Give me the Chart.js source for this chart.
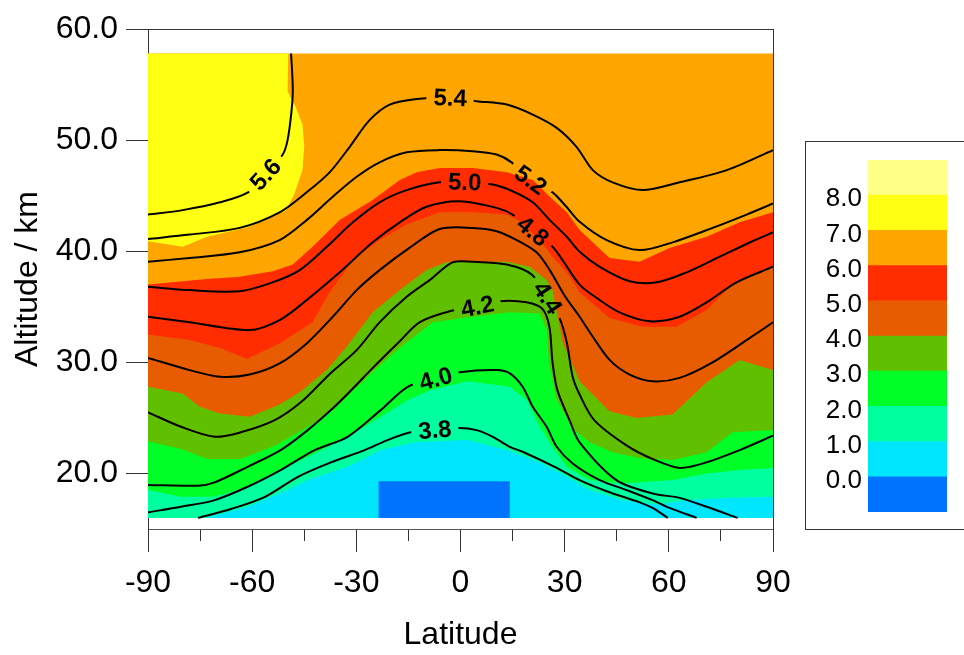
<!DOCTYPE html>
<html>
<head>
<meta charset="utf-8">
<script src="https://cdn.jsdelivr.net/npm/chart.js@4.4.0/dist/chart.umd.min.js"></script>
<style>
  body { margin: 0; background: #fff; overflow: hidden; }
  #wrap { position: relative; width: 964px; height: 655px; }
  #mainBox { position: absolute; left: 0; top: 0; width: 964px; height: 655px; }
  #legendBox { position: absolute; left: 805px; top: 141px; width: 170px; height: 389px;
               border: 1px solid #333; box-sizing: border-box; }
  #barBox { position: absolute; left: 806px; top: 142px; width: 157px; height: 387px; }
</style>
</head>
<body>
<div id="wrap">
  <div id="mainBox"><canvas id="myChart"></canvas></div>
  <div id="legendBox"></div>
  <div id="barBox"><canvas id="barChart"></canvas></div>
</div>
<script>
// ---- data (latitude, altitude km) ----
var altBottom = 16;
var altTop = 57.8;
var xTicks = [-90, -75, -60, -45, -30, -15, 0, 15, 30, 45, 60, 75, 90];
var yTicks = [20, 30, 40, 50, 60];
var rowAlts = [19.4, 22.9, 26.4, 29.9, 33.4, 36.9, 40.4, 43.9, 47.4, 50.9, 54.4];

// colour bands (top edge of each band, lower values are underneath)
var yellowEdge = [[-90,57.8],[-49.6,57.8],[-49.8,54.4],[-47.5,53],[-45.5,51.4],[-45,49.5],[-45.5,47.3],
  [-47.8,45.2],[-50.1,43.7],[-54.1,43.1],[-60.7,42.2],[-73,41.3],[-80,40.4],[-90,40.9]];
var redTop = [[-90,37.0],[-73,37.5],[-63.6,37.7],[-54.1,38.2],[-48.3,38.8],[-42.6,40.4],[-34.8,42.8],
  [-25.3,44.6],[-17.5,46.4],[-12.6,47.1],[-6,47.5],[3.5,47.5],[13.3,47.1],[20.8,46.4],[25.7,44.9],
  [30.6,43.5],[34.3,41.9],[42.9,39.4],[51.6,39.05],[60.2,40.3],[70.9,41.3],[80.4,42.6],[90,43.5]];
var darkOrangeTop = [[-90,32.5],[-78,32.0],[-69.3,31.3],[-61.5,30.3],[-52.1,31.7],[-42.6,33.6],[-37.7,36.3],
  [-31,39.2],[-23.3,41.0],[-15.5,42.4],[-6,43.5],[3.5,43.5],[13.3,43.3],[17.1,42.7],[22.8,41.0],
  [26.5,39.5],[30.6,38.1],[34.3,36.3],[42.9,34.0],[52.4,33.2],[62.2,33.2],[70.9,34.7],[77.5,36.8],
  [84.1,37.9],[90,38.6]];
var oliveTop = [[-90,27.8],[-80,27.2],[-75.1,26.0],[-69.3,25.4],[-60.7,25.1],[-52.1,26.2],[-46.3,27.3],
  [-38.5,29.3],[-32.8,31.4],[-25.3,34.5],[-17.5,36.5],[-9.8,38.3],[-4.1,39.0],[3.5,39.05],[13.3,39.05],
  [19.9,38.6],[24.8,37.4],[26.5,36.5],[29.4,31.8],[34.3,28.3],[42.9,25.6],[50.7,25.0],[61.1,25.3],
  [70.9,28.2],[80.4,30.2],[90,29.3]];
var greenTop = [[-90,22.9],[-80.5,22.2],[-72.8,21.3],[-63.3,21.3],[-53.5,22.5],[-44.9,24.0],[-36.3,25.8],
  [-30.5,27.6],[-24.7,29.3],[-17.5,31.3],[-8,33.6],[3.5,34.1],[14.2,34.5],[22.8,34.4],[24.8,33.0],
  [25.5,30.0],[27.5,26.8],[32.3,24.0],[37.2,22.8],[43.8,21.9],[51.6,21.4],[61.1,21.2],[70.9,21.9],
  [78.4,23.7],[90,23.9]];
var aquaTop = [[-90,18.5],[-80.5,17.9],[-70.8,17.9],[-61.3,18.8],[-51.8,20.3],[-42,21.8],[-32.5,23.3],
  [-23,25.1],[-15.2,26.6],[-8.6,27.5],[2,28.3],[14.2,27.8],[19.1,26.6],[22.8,24.2],[26.5,22.4],
  [30.6,20.6],[37.2,19.4],[46.7,19.1],[61.1,19.4],[70.9,20.0],[80.4,20.3],[90,20.5]];
var cyanTop = [[-73.6,16.0],[-61.3,17.0],[-49.8,18.5],[-44,19.4],[-32.5,20.6],[-23,22.1],[-13.2,22.8],
  [2,23.0],[13.3,22.1],[22.8,21.0],[30.6,19.7],[37.2,18.5],[46.7,17.6],[56.5,17.2],[66,17.6],
  [75.5,17.8],[90,17.9]];
var blueTop = [[-23.6,19.3],[14.2,19.3]];
var fullTop = [[-90,57.8],[90,57.8]];

// contour lines
var c56 = [[-90,43.3],[-80,43.7],[-69.3,44.4],[-61.2,45.3],[-56.1,46.9],[-51.2,48.7],[-49.8,50.0],
  [-48.7,52.5],[-48.3,54.3],[-48.5,56.2],[-48.8,57.8]];
var c54 = [[-90,41.1],[-78,41.5],[-63.6,42.1],[-52.1,43.5],[-44.3,45.3],[-37.7,47.1],[-31.9,49.4],
  [-26.2,51.8],[-20.4,53.2],[-12.6,53.7],[-3,53.8],[4.6,53.5],[13.3,53.2],[20.8,52.3],[27.7,51.1],
  [33.4,49.4],[38.1,47.3],[43.8,46.2],[52.5,45.5],[63.1,46.2],[76.7,47.3],[90,49.1]];
var c52 = [[-90,39.05],[-78,39.4],[-63.6,39.9],[-52.1,41.0],[-44.3,42.8],[-36.8,44.9],[-29.9,46.7],
  [-23.3,48.0],[-15.5,48.9],[-6,49.1],[3.5,49.0],[10.4,48.7],[14.7,48.0],[20.2,46.4],[26.5,45.3],
  [30.5,44.0],[34.3,42.65],[42.1,41.0],[51.6,40.1],[61.1,40.8],[72.6,42.1],[82.4,43.3],[90,44.3]];
var c50 = [[-90,36.8],[-78,36.5],[-63.6,36.4],[-54.1,37.2],[-46.3,38.3],[-38.5,40.4],[-31,42.6],
  [-23.3,44.4],[-15.5,45.5],[-6,46.2],[1.2,46.2],[9.3,46.0],[15,45.4],[20.8,44.4],[25.7,42.8],
  [30.6,41.3],[34.3,39.95],[40.1,38.6],[48.7,37.3],[56.5,37.2],[65.1,38.1],[74.6,39.5],[84.1,40.9],[90,41.7]];
var c48 = [[-90,34.1],[-78,33.6],[-60.7,32.9],[-52.1,33.8],[-44.3,35.6],[-34.8,38.1],[-25.3,40.8],
  [-17.5,42.6],[-9.8,44.0],[-0.3,44.5],[10.4,43.9],[15,43.3],[20.8,41.8],[26.5,40.4],[29.4,39.2],
  [34.3,37.0],[39.2,35.8],[45.8,34.5],[54.5,33.7],[63.1,34.1],[70.9,35.4],[79.5,37.2],[90,38.6]];
var c46 = [[-90,30.4],[-78,29.3],[-69.3,28.7],[-60.7,28.9],[-52.1,29.9],[-44.3,31.7],[-36.8,34.1],
  [-29.9,36.5],[-23.3,38.3],[-14.7,40.3],[-6,42.0],[3.5,42.1],[10.4,41.8],[16.2,41.0],[21.9,39.9],
  [25.7,38.3],[30,36.0],[34.3,34.1],[38.1,32.3],[43,30.2],[48.7,28.9],[55.3,28.3],[63.1,28.6],
  [72.6,30.0],[82.4,32.0],[90,33.6]];
var c44 = [[-90,25.5],[-80.5,24.2],[-70.8,23.3],[-63.3,23.7],[-53.5,24.8],[-46,26.4],[-37.5,29.0],
  [-29.9,31.1],[-23.3,33.6],[-15.5,35.9],[-8.9,37.4],[-2.3,39.0],[3.5,39.05],[13.3,38.8],[20.5,37.9],
  [25,35.8],[28.5,34.0],[30.6,31.8],[32.3,28.7],[34.3,27.1],[38.5,24.8],[47.9,22.5],[55.3,21.3],
  [63.1,20.5],[70.9,21.0],[80.4,22.1],[90,23.4]];
var c42 = [[-90,18.97],[-75.6,18.9],[-70.8,19.2],[-61.3,20.6],[-51.8,22.1],[-44,23.9],[-36.3,26.0],
  [-30.5,27.8],[-25.9,29.3],[-17.5,31.9],[-11.8,33.6],[-3.1,34.6],[4.9,35.0],[11.3,35.5],[19,35.4],
  [23.6,34.8],[25.6,33.2],[26.5,30.0],[27.9,27.5],[31.4,24.8],[34.3,22.8],[44.9,19.4],[55.3,18.2],
  [63.1,17.8],[70.9,17.0],[79.8,16.0]];
var c40 = [[-90,16.5],[-80.5,17.0],[-70.8,17.6],[-61.3,18.8],[-51.8,20.3],[-42,22.1],[-32.5,23.3],
  [-23,25.7],[-15.2,27.8],[-7.1,28.5],[-0.2,29.1],[10.4,29.3],[14.2,29.0],[17.9,27.8],[20.8,26.0],
  [24.8,24.2],[27.7,22.4],[32.3,20.9],[40.1,19.4],[47.9,18.5],[55.3,17.6],[60.2,16.9],[68,16.0]];
var c38 = [[-75.6,16.0],[-66.1,16.8],[-56.3,17.9],[-46.8,19.7],[-37.3,21.0],[-27.6,22.1],[-21,23.0],
  [-14.4,23.7],[-7.4,23.9],[-0.3,24.1],[4.6,23.9],[9.3,23.3],[14.2,22.4],[17.9,21.95],[27.7,20.5],
  [34.3,19.4],[42.1,18.4],[51.6,17.4],[55.3,16.9],[59.7,16.0]];

var contours = [c56, c54, c52, c50, c48, c46, c44, c42, c40, c38];
var contourNames = ['5.6', '5.4', '5.2', '5.0', '4.8', '4.6', '4.4', '4.2', '4.0', '3.8'];
var labelAt = [4, 10, 13, 10, 12, null, 15, 12, 9, 8];

// legend bar
var barEdges = [-1, 0, 1, 2, 3, 4, 5, 6, 7, 8, 9];
var barTicks = [0, 1, 2, 3, 4, 5, 6, 7, 8];
var bandColors = ['#0073FF', '#00E6FF', '#00FF9F', '#00FF26', '#60C000', '#E85C00', '#FF2D00', '#FFA500', '#FFFF14', '#FFFF88'];

var fontFamily = '"Liberation Sans", Arial, Helvetica, sans-serif';
Chart.defaults.font.family = fontFamily;
Chart.defaults.color = '#000';

function toPts(arr) {
    return arr.map(function (p) { return {x: p[0], y: p[1]}; });
}
function band(top) {
    return [{x: top[0][0], y: altBottom}].concat(toPts(top), [{x: top[top.length - 1][0], y: altBottom}]);
}

// fill layers, bottom first
var layers = [
    {pts: band(fullTop), color: bandColors[7]},
    {pts: toPts(yellowEdge), color: bandColors[8]},
    {pts: band(redTop), color: bandColors[6]},
    {pts: band(darkOrangeTop), color: bandColors[5]},
    {pts: band(oliveTop), color: bandColors[4]},
    {pts: band(greenTop), color: bandColors[3]},
    {pts: band(aquaTop), color: bandColors[2]},
    {pts: band(cyanTop), color: bandColors[1]},
    {pts: band(blueTop), color: bandColors[0]}
];

var datasets = [];
contours.forEach(function (c, i) {
    datasets.push({
        label: contourNames[i],
        data: toPts(c),
        labelAt: labelAt[i],
        borderColor: '#000',
        borderWidth: 2,
        pointRadius: 0,
        tension: 0.3,
        fill: false,
        order: 0
    });
});
layers.forEach(function (l, i) {
    datasets.push({
        data: l.pts,
        fill: 'shape',
        backgroundColor: l.color,
        borderWidth: 0,
        pointRadius: 0,
        tension: 0,
        order: 100 - i
    });
});

var labelFont = 'bold 24px ' + fontFamily;

function labelGeom(chart, meta, ds) {
    var i = ds.labelAt;
    var p = meta.data[i], a = meta.data[i - 1], b = meta.data[i + 1];
    var ang = Math.atan2(b.y - a.y, b.x - a.x);
    if (ang > Math.PI / 2) ang -= Math.PI;
    if (ang < -Math.PI / 2) ang += Math.PI;
    chart.ctx.save();
    chart.ctx.font = labelFont;
    var w = chart.ctx.measureText(ds.label).width;
    chart.ctx.restore();
    return {x: p.x, y: p.y, ang: ang, w: w};
}

var contourLabels = {
    id: 'contourLabels',
    beforeDatasetDraw: function (chart, args) {
        var ds = chart.data.datasets[args.index];
        if (ds.labelAt == null) return;
        var g = labelGeom(chart, args.meta, ds);
        var hw = g.w / 2 + 7, hh = 13;
        var cs = Math.cos(g.ang), sn = Math.sin(g.ang);
        var corners = [[-hw, -hh], [hw, -hh], [hw, hh], [-hw, hh]].map(function (c) {
            return [g.x + c[0] * cs - c[1] * sn, g.y + c[0] * sn + c[1] * cs];
        });
        var ctx = chart.ctx;
        ctx.save();
        ctx.beginPath();
        ctx.rect(0, 0, chart.width, chart.height);
        ctx.moveTo(corners[0][0], corners[0][1]);
        for (var k = 1; k < 4; k++) ctx.lineTo(corners[k][0], corners[k][1]);
        ctx.closePath();
        ctx.clip('evenodd');
    },
    afterDatasetDraw: function (chart, args) {
        var ds = chart.data.datasets[args.index];
        if (ds.labelAt == null) return;
        chart.ctx.restore();
    },
    afterDatasetsDraw: function (chart) {
        var ctx = chart.ctx;
        chart.data.datasets.forEach(function (ds, i) {
            if (ds.labelAt == null) return;
            var g = labelGeom(chart, chart.getDatasetMeta(i), ds);
            ctx.save();
            ctx.translate(g.x, g.y);
            ctx.rotate(g.ang);
            ctx.font = labelFont;
            ctx.fillStyle = '#000';
            ctx.textAlign = 'center';
            ctx.textBaseline = 'middle';
            ctx.fillText(ds.label, 0, 1);
            ctx.restore();
        });
    }
};

var ctx = document.getElementById('myChart').getContext('2d');
var myChart = new Chart(ctx, {
    type: 'line',
    data: {datasets: datasets},
    plugins: [contourLabels],
    options: {
        responsive: true,
        maintainAspectRatio: false,
        animation: false,
        events: [],
        layout: {padding: {left: 0, top: 29, right: 191, bottom: 0}},
        plugins: {legend: {display: false}, tooltip: {enabled: false}},
        scales: {
            x: {
                type: 'linear', position: 'bottom', min: -90, max: 90, z: 1,
                afterBuildTicks: function (s) { s.ticks = xTicks.map(function (v) { return {value: v}; }); },
                afterFit: function (s) { s.height = 126; },
                ticks: {
                    autoSkip: false, maxRotation: 0, padding: 12, font: {size: 32},
                    callback: function (v) { return v % 30 === 0 ? String(v) : ''; }
                },
                grid: {
                    drawOnChartArea: false, tickLength: 23, tickColor: '#333', tickWidth: 1,
                    tickBorderDash: function (c) { return c.tick && c.tick.value % 30 !== 0 ? [11, 40] : []; }
                },
                border: {display: true, color: '#555', width: 1},
                title: {display: true, text: 'Latitude', font: {size: 32}, padding: {top: 0, bottom: 1}}
            },
            xTop: {
                type: 'linear', position: 'top', min: -90, max: 90, z: 1,
                afterFit: function (s) { s.height = 0; },
                ticks: {display: false},
                grid: {display: false, drawTicks: false},
                border: {display: true, color: '#333', width: 1}
            },
            yRows: {
                type: 'linear', position: 'left', min: 15, max: 60, z: 1,
                afterBuildTicks: function (s) { s.ticks = rowAlts.map(function (v) { return {value: v}; }); },
                afterFit: function (s) { s.width = 0; },
                ticks: {display: false},
                grid: {color: 'rgba(255,255,255,0.25)', drawTicks: false},
                border: {display: false}
            },
            y: {
                type: 'linear', position: 'left', min: 15, max: 60, z: 1,
                afterBuildTicks: function (s) { s.ticks = yTicks.map(function (v) { return {value: v}; }); },
                afterFit: function (s) { s.width = 148; },
                ticks: {
                    padding: 8, font: {size: 32},
                    callback: function (v) { return v.toFixed(1); }
                },
                grid: {drawOnChartArea: false, tickLength: 22, tickColor: '#333', tickWidth: 1},
                border: {display: true, color: '#333', width: 1},
                title: {display: true, text: 'Altitude / km', font: {size: 32}, padding: {top: 9, bottom: 0}}
            },
            yRight: {
                type: 'linear', position: 'right', min: 15, max: 60, z: 1,
                afterFit: function (s) { s.width = 0; },
                ticks: {display: false},
                grid: {display: false, drawTicks: false},
                border: {display: true, color: '#333', width: 1}
            }
        }
    }
});

// legend colour bar
var barSets = bandColors.map(function (c, i) {
    return {
        data: [[barEdges[i], barEdges[i + 1]]],
        backgroundColor: c,
        borderWidth: 0,
        barPercentage: 1,
        categoryPercentage: 1,
        grouped: false
    };
});
var bctx = document.getElementById('barChart').getContext('2d');
var barChart = new Chart(bctx, {
    type: 'bar',
    data: {labels: [''], datasets: barSets},
    options: {
        responsive: true,
        maintainAspectRatio: false,
        animation: false,
        events: [],
        layout: {padding: {left: 0, top: 18, right: 16, bottom: 17}},
        plugins: {legend: {display: false}, tooltip: {enabled: false}},
        scales: {
            x: {display: false},
            y: {
                min: -1, max: 9,
                afterBuildTicks: function (s) { s.ticks = barTicks.map(function (v) { return {value: v}; }); },
                afterFit: function (s) { s.width = 62; s.paddingTop = 0; s.paddingBottom = 0; },
                ticks: {
                    padding: 6, labelOffset: 4, font: {size: 26},
                    callback: function (v) { return v.toFixed(1); }
                },
                grid: {display: false, drawTicks: false},
                border: {display: false}
            }
        }
    }
});
</script>
</body>
</html>
